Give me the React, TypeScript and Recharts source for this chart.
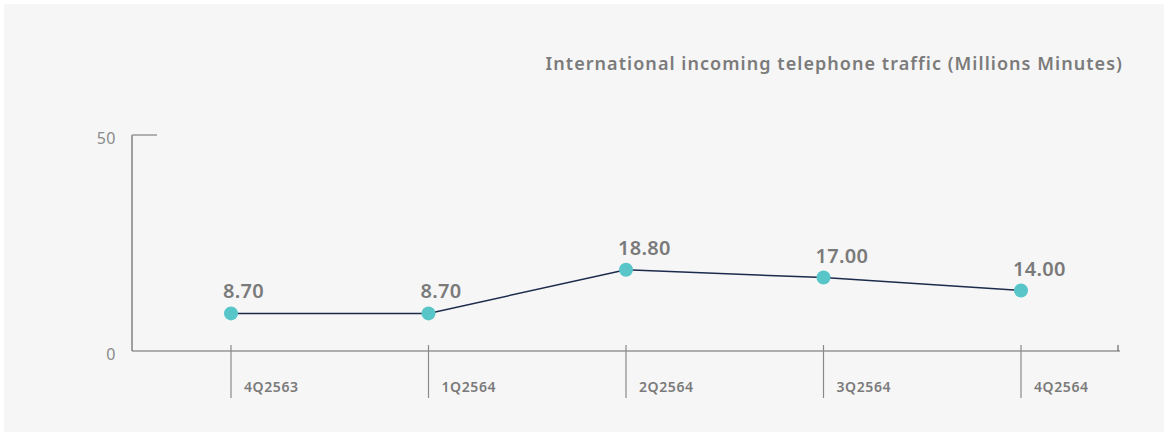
import React from "react";
import { LineChart, Line, XAxis, YAxis, LabelList } from "recharts";

const categories = ["4Q2563", "1Q2564", "2Q2564", "3Q2564", "4Q2564"];
const values = [8.7, 8.7, 18.8, 17.0, 14.0];
const yTicks = [0, 50];
const title = "International incoming telephone traffic (Millions Minutes)";

const data = categories.map((c, i) => ({ name: c, value: values[i] }));

const W = 1168;
const H = 436;
const margin = { top: 135, right: 48, bottom: 35, left: 72 };
const FONT = "'Noto Sans', sans-serif";

const XTick = (props: any) => {
  const { x, y, payload, index } = props;
  const last = index === categories.length - 1;
  return (
    <g>
      <line x1={x} y1={y - 6} x2={x} y2={y + 47} stroke="#8a8a8a" strokeWidth={1.2} />
      <text x={x + 13} y={y + 41} fill="#7a7a7a" fontSize={14} fontWeight={600} fontFamily={FONT} letterSpacing={0.6}>
        {payload.value}
      </text>
      {last ? (
        <line x1={W - margin.right - 2} y1={y - 6} x2={W - margin.right - 2} y2={y} stroke="#666" strokeWidth={1.2} />
      ) : null}
    </g>
  );
};

const YTick = (props: any) => {
  const { x, y, payload } = props;
  const top = payload.value === yTicks[yTicks.length - 1];
  return (
    <g>
      <text x={x - 16} y={y + 9} textAnchor="end" fill="#8a8a8a" fontSize={16} fontFamily={FONT} letterSpacing={0.5}>
        {payload.value}
      </text>
      {top ? <line x1={x} y1={y} x2={x + 25} y2={y} stroke="#999" strokeWidth={1.5} /> : null}
    </g>
  );
};

const PointLabel = (props: any) => {
  const { x, y, value } = props;
  return (
    <text x={x - 8} y={y - 15} fill="#7a7a7a" fontSize={20} fontWeight={600} fontFamily={FONT} letterSpacing={0.3}>
      {Number(value).toFixed(2)}
    </text>
  );
};

export default function App() {
  return (
    <div style={{ position: "absolute", left: 0, top: 0, width: W, height: H, background: "#ffffff" }}>
      <div style={{ position: "absolute", left: 4, top: 4, width: W - 8, height: H - 8, background: "#f6f6f6" }} />
      <div
        style={{
          position: "absolute",
          right: W - 1123,
          top: 50,
          fontFamily: FONT,
          fontSize: 18,
          fontWeight: 600,
          color: "#7b7b7b",
          whiteSpace: "nowrap",
          lineHeight: "26px",
          letterSpacing: "1.05px",
        }}
      >
        {title}
      </div>
      <div style={{ position: "absolute", left: 0, top: 0 }}>
        <LineChart width={W} height={H} data={data} margin={margin}>
          <XAxis
            dataKey="name"
            tickLine={false}
            tickSize={0}
            tickMargin={0}
            height={50}
            padding={{ left: 99, right: 99 }}
            axisLine={{ stroke: "#666", strokeWidth: 1.2 }}
            tick={<XTick />}
            interval={0}
          />
          <YAxis
            domain={[0, 50]}
            ticks={yTicks}
            width={60}
            tickLine={false}
            tickSize={0}
            tickMargin={0}
            axisLine={{ stroke: "#666", strokeWidth: 1.2 }}
            tick={<YTick />}
          />
          <Line
            type="linear"
            dataKey="value"
            stroke="#1b2b4b"
            strokeWidth={1.5}
            dot={{ r: 7, fill: "#58c5c9", stroke: "none" }}
            activeDot={false}
            isAnimationActive={false}
          >
            <LabelList dataKey="value" content={<PointLabel />} />
          </Line>
        </LineChart>
      </div>
    </div>
  );
}
